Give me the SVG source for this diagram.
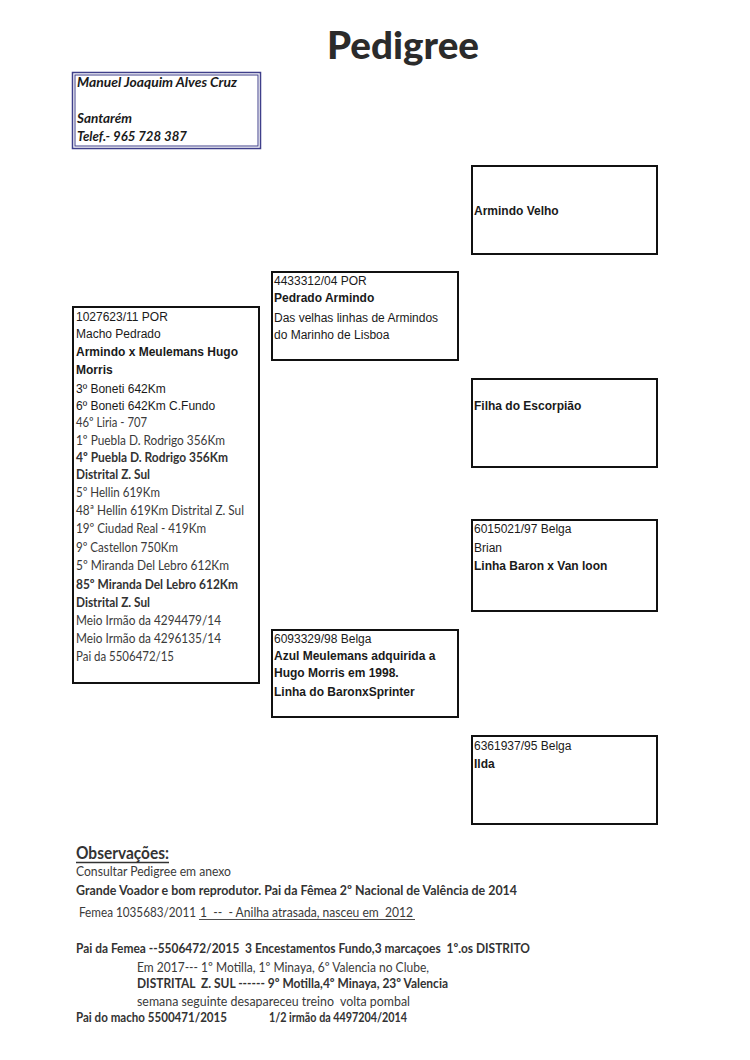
<svg xmlns="http://www.w3.org/2000/svg" width="750" height="1060" viewBox="0 0 750 1060">
<style>
.box{fill:#fff;stroke:#111;stroke-width:2}
.ar{font-family:"Liberation Sans",Arial,sans-serif;font-size:12px;fill:#1a1a1a}
.arb{font-family:"Liberation Sans",Arial,sans-serif;font-size:12px;font-weight:bold;fill:#1a1a1a}
.ca{font-family:Lato,"Open Sans",sans-serif;font-size:13.3px;fill:#3a3a3a}
.cab{font-family:Lato,"Open Sans",sans-serif;font-size:13.3px;font-weight:bold;fill:#333}
.hdr{font-family:Lato,"Open Sans",sans-serif;font-size:13.5px;font-weight:bold;font-style:italic;fill:#1a1a1a}
.title{font-family:Lato,"Open Sans",sans-serif;font-size:37px;font-weight:900;fill:#2b2b2b}
</style>
<rect width="750" height="1060" fill="#fff"/>
<text class="title" x="327" y="59" textLength="152" lengthAdjust="spacingAndGlyphs">Pedigree</text>

<g id="owner">
<rect x="72.5" y="72.5" width="188" height="76" fill="none" stroke="#3f3f8a" stroke-width="1.5"/>
<rect x="75" y="75" width="183" height="71" fill="none" stroke="#3f3f8a" stroke-width="1"/>
<text class="hdr" x="77" y="87" textLength="160" lengthAdjust="spacingAndGlyphs">Manuel Joaquim Alves Cruz</text>
<text class="hdr" x="77" y="123" textLength="55" lengthAdjust="spacingAndGlyphs">Santarém</text>
<text class="hdr" x="77" y="141" textLength="110" lengthAdjust="spacingAndGlyphs">Telef.- 965 728 387</text>
</g>

<g id="subject">
<rect class="box" x="73" y="307" width="186" height="376"/>
<text class="ar" x="76" y="321">1027623/11 POR</text>
<text class="ar" x="76" y="338">Macho Pedrado</text>
<text class="arb" x="76" y="356">Armindo x Meulemans Hugo</text>
<text class="arb" x="76" y="374">Morris</text>
<text class="ar" x="76" y="393">3º Boneti 642Km</text>
<text class="ar" x="76" y="410">6º Boneti 642Km C.Fundo</text>
<text class="ca" x="76" y="427" textLength="71" lengthAdjust="spacingAndGlyphs">46º Liria - 707</text>
<text class="ca" x="76" y="445" textLength="149" lengthAdjust="spacingAndGlyphs">1º Puebla D. Rodrigo 356Km</text>
<text class="cab" x="76" y="462" textLength="152" lengthAdjust="spacingAndGlyphs">4º Puebla D. Rodrigo 356Km</text>
<text class="cab" x="76" y="479" textLength="74" lengthAdjust="spacingAndGlyphs">Distrital Z. Sul</text>
<text class="ca" x="76" y="497" textLength="84" lengthAdjust="spacingAndGlyphs">5º Hellin 619Km</text>
<text class="ca" x="76" y="515" textLength="168" lengthAdjust="spacingAndGlyphs">48ª Hellin 619Km Distrital Z. Sul</text>
<text class="ca" x="76" y="533" textLength="130" lengthAdjust="spacingAndGlyphs">19º Ciudad Real - 419Km</text>
<text class="ca" x="76" y="552" textLength="102" lengthAdjust="spacingAndGlyphs">9º Castellon 750Km</text>
<text class="ca" x="76" y="570" textLength="153" lengthAdjust="spacingAndGlyphs">5º Miranda Del Lebro 612Km</text>
<text class="cab" x="76" y="589" textLength="162" lengthAdjust="spacingAndGlyphs">85º Miranda Del Lebro 612Km</text>
<text class="cab" x="76" y="607" textLength="74" lengthAdjust="spacingAndGlyphs">Distrital Z. Sul</text>
<text class="ca" x="76" y="625" textLength="145" lengthAdjust="spacingAndGlyphs">Meio Irmão da 4294479/14</text>
<text class="ca" x="76" y="643" textLength="145" lengthAdjust="spacingAndGlyphs">Meio Irmão da 4296135/14</text>
<text class="ca" x="76" y="661" textLength="98" lengthAdjust="spacingAndGlyphs">Pai da 5506472/15</text>
</g>

<g id="sire">
<rect class="box" x="272" y="272" width="186" height="88"/>
<text class="ar" x="274" y="285">4433312/04 POR</text>
<text class="arb" x="274" y="302">Pedrado Armindo</text>
<text class="ar" x="274" y="322">Das velhas linhas de Armindos</text>
<text class="ar" x="274" y="339">do Marinho de Lisboa</text>
</g>

<g id="dam">
<rect class="box" x="272" y="630" width="186" height="87"/>
<text class="ar" x="274" y="643">6093329/98 Belga</text>
<text class="arb" x="274" y="660">Azul Meulemans adquirida a</text>
<text class="arb" x="274" y="677">Hugo Morris em 1998.</text>
<text class="arb" x="274" y="696">Linha do BaronxSprinter</text>
</g>

<g id="sire-sire">
<rect class="box" x="472" y="166" width="185" height="88"/>
<text class="arb" x="474" y="215">Armindo Velho</text>
</g>

<g id="sire-dam">
<rect class="box" x="472" y="379" width="185" height="88"/>
<text class="arb" x="474" y="410">Filha do Escorpião</text>
</g>

<g id="dam-sire">
<rect class="box" x="472" y="520" width="185" height="91"/>
<text class="ar" x="474" y="533">6015021/97 Belga</text>
<text class="ar" x="474" y="552">Brian</text>
<text class="arb" x="474" y="570">Linha Baron x Van loon</text>
</g>

<g id="dam-dam">
<rect class="box" x="472" y="736" width="185" height="88"/>
<text class="ar" x="474" y="750">6361937/95 Belga</text>
<text class="arb" x="474" y="768">Ilda</text>
</g>

<g id="connectors"></g>

<g id="observations">
<text class="cab" x="76" y="859" style="font-size:16.5px" textLength="93" lengthAdjust="spacingAndGlyphs">Observações:</text>
<line x1="76" y1="862.5" x2="169" y2="862.5" stroke="#333" stroke-width="1.3"/>
<text class="ca" x="76" y="876" textLength="155" lengthAdjust="spacingAndGlyphs">Consultar Pedigree em anexo</text>
<text class="cab" x="76" y="895" textLength="441" lengthAdjust="spacingAndGlyphs">Grande Voador e bom reprodutor. Pai da Fêmea 2º Nacional de Valência de 2014</text>
<text class="ca" x="79" y="917" textLength="117" lengthAdjust="spacingAndGlyphs">Femea 1035683/2011</text>
<text class="ca" x="200" y="917" textLength="213" lengthAdjust="spacingAndGlyphs" xml:space="preserve">1  --  - Anilha atrasada, nasceu em  2012</text>
<line x1="199" y1="919.5" x2="415" y2="919.5" stroke="#3a3a3a" stroke-width="0.9"/>
<text class="cab" x="76" y="953" textLength="454" lengthAdjust="spacingAndGlyphs" xml:space="preserve">Pai da Femea --5506472/2015  3 Encestamentos Fundo,3 marcaçoes  1º.os DISTRITO</text>
<text class="ca" x="137" y="972" textLength="292" lengthAdjust="spacingAndGlyphs">Em 2017--- 1º Motilla, 1º Minaya, 6º Valencia no Clube,</text>
<text class="cab" x="137" y="988" textLength="311" lengthAdjust="spacingAndGlyphs" xml:space="preserve">DISTRITAL  Z. SUL ------ 9º Motilla,4º Minaya, 23º Valencia</text>
<text class="ca" x="137" y="1006" textLength="273" lengthAdjust="spacingAndGlyphs" xml:space="preserve">semana seguinte desapareceu treino  volta pombal</text>
<text class="cab" x="76" y="1022" textLength="151" lengthAdjust="spacingAndGlyphs">Pai do macho 5500471/2015</text>
<text class="cab" x="269" y="1022" textLength="138" lengthAdjust="spacingAndGlyphs">1/2 irmão da 4497204/2014</text>
</g>
</svg>
